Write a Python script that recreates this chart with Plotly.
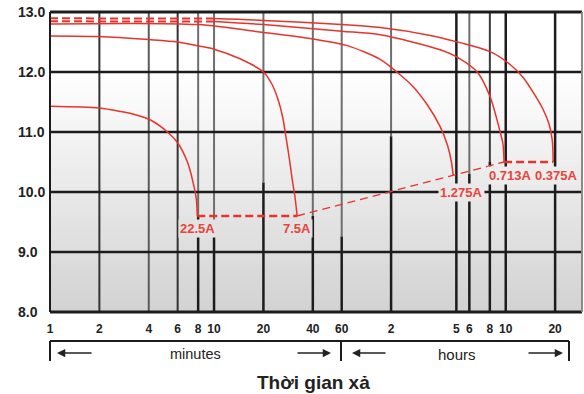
import numpy as np
import plotly.graph_objects as go

# ---------------- data ----------------
# discharge time in minutes, terminal voltage in volts
t_225 = [1, 2, 2.7, 3.4, 4.1, 5.2, 6.0, 6.9, 7.45, 7.8, 7.9]
v_225 = [11.43, 11.40, 11.34, 11.28, 11.2, 11.0, 10.82, 10.49, 10.16, 9.88, 9.6]

t_75 = [1, 2, 4, 6, 8.2, 10, 14.4, 20, 22.5, 24.5, 26.2, 27.5, 28.8, 30.0, 31.2, 32.1]
v_75 = [12.6, 12.59, 12.54, 12.5, 12.43, 12.38, 12.22, 12.0, 11.8, 11.55, 11.25, 10.9, 10.55, 10.2, 9.9, 9.6]

t_1275 = [1, 8, 20, 40, 65, 103, 130, 163, 200, 239, 265, 280, 287]
v_1275 = [12.80, 12.79, 12.66, 12.55, 12.44, 12.21, 12.0, 11.76, 11.45, 11.09, 10.78, 10.5, 10.28]

t_0713 = [1, 10, 20, 60, 103, 239, 316, 402, 480, 555, 577, 586]
v_0713 = [12.845, 12.84, 12.79, 12.68, 12.62, 12.37, 12.22, 12.0, 11.6, 11.0, 10.8, 10.5]

t_0375 = [1, 10, 20, 60, 103, 208, 316, 482, 638, 766, 906, 1014, 1104, 1151, 1164, 1167]
v_0375 = [12.895, 12.89, 12.86, 12.79, 12.74, 12.61, 12.49, 12.34, 12.125, 11.91, 11.61, 11.375, 11.125, 10.875, 10.68, 10.5]

# end-voltage (cut-off) line joining curve ends
t_cut = [7.9, 32.1, 586, 1167]
v_cut = [9.6, 9.6, 10.5, 10.5]

labels = ["22.5A", "7.5A", "1.275A", "0.713A", "0.375A"]
label_t = [7.9, 32, 321, 638, 1217]
label_v = [9.4, 9.4, 10.0, 10.28, 10.28]

tick_vals = [1, 2, 4, 6, 8, 10, 20, 40, 60, 120, 300, 360, 480, 600, 1200]
tick_text = ["1", "2", "4", "6", "8", "10", "20", "40", "60", "2", "5", "6", "8", "10", "20"]
y_vals = [8, 9, 10, 11, 12, 13]
y_text = ["8.0", "9.0", "10.0", "11.0", "12.0", "13.0"]

# ---------------- styling ----------------
RED = "#e8332c"
LRED = "#e8443c"
BLACK = "#1c1c1c"
FONT = "Liberation Sans, Arial, sans-serif"
X_MAX = 1750

W, H = 584, 394
ML, MR, MT, MB = 50, 2, 12, 82
PW, PH = W - ML - MR, H - MT - MB


def px_x(x):
    return (x - ML) / PW


def px_y(y):
    return (H - MB - y) / PH


def gray(v):
    if v >= 12:
        g = 255
    else:
        g = 255 - 45 * (12 - v) / 4
    g = int(round(g))
    return f"rgb({g},{g},{g})"


fig = go.Figure()

# background gradient bands
shapes = []
steps = np.arange(8, 12, 0.1)
for v0 in steps:
    shapes.append(dict(type="rect", xref="paper", yref="y", x0=0, x1=1,
                       y0=v0, y1=v0 + 0.1 + 0.01, fillcolor=gray(v0 + 0.05),
                       line=dict(width=0), layer="below"))


def seg(x, y, color, width, dash=None, shape="linear"):
    fig.add_trace(go.Scatter(x=x, y=y, mode="lines",
                             line=dict(color=color, width=width, dash=dash,
                                       shape=shape, smoothing=0.8),
                             hoverinfo="skip", showlegend=False))


# vertical grid lines: (upper colour, voltage below which the line is black)
vstyle = {
    2: ("#333333", 8), 4: ("#5a5a5a", 8), 6: ("#333333", 8),
    8: ("#6e6e6e", 9.6), 10: ("#6e6e6e", 9.26), 20: ("#6e6e6e", 10.16),
    40: ("#6e6e6e", 9.6), 60: ("#6e6e6e", 9.26), 120: ("#6e6e6e", 10.93),
    300: (BLACK, 13), 360: ("#6e6e6e", 10.3), 480: ("#3a3a3a", 10.5),
    600: (BLACK, 13), 1200: (BLACK, 13),
}
for tv in tick_vals[1:]:
    col, split = vstyle[tv]
    if split > 8:
        seg([tv, tv], [8, split], BLACK, 2.5)
    if split < 13:
        seg([tv, tv], [split, 13], col, 2)

# horizontal grid lines
for yv in y_vals[1:-1]:
    seg([1, X_MAX], [yv, yv], BLACK, 2.5)

# curves
seg(t_225, v_225, RED, 1.5, shape="spline")
seg(t_75, v_75, RED, 1.5, shape="spline")
seg(t_1275, v_1275, RED, 1.5, shape="spline")


def split_curve(t, v, tb=10):
    t = np.array(t)
    v = np.array(v)
    lo = t <= tb
    hi = t >= tb
    return (t[lo], v[lo]), (t[hi], v[hi])


for t, v in [(t_0713, v_0713), (t_0375, v_0375)]:
    (ta, va), (tb, vb) = split_curve(t, v)
    seg(ta, va, RED, 2, "8px,4px")
    seg(tb, vb, RED, 1.5, shape="spline")

# cut-off dashed line
seg(t_cut[:2], v_cut[:2], RED, 2.5, "8px,4px")
seg(t_cut[1:3], v_cut[1:3], RED, 1.3, "8px,5px")
seg(t_cut[2:], v_cut[2:], RED, 2.5, "8px,4px")

# borders
shapes += [
    dict(type="line", xref="paper", yref="paper", x0=0, x1=1, y0=1, y1=1,
         line=dict(color=BLACK, width=3)),
    dict(type="line", xref="paper", yref="paper", x0=0, x1=1, y0=0, y1=0,
         line=dict(color=BLACK, width=3)),
    dict(type="line", xref="paper", yref="paper", x0=0, x1=0, y0=0, y1=1,
         line=dict(color=BLACK, width=2)),
    dict(type="line", xref="paper", yref="paper", x0=1, x1=1, y0=0, y1=1,
         line=dict(color="#8a8a8a", width=2)),
]

# bracket under axis
yb = px_y(341)
yb2 = px_y(361)
shapes += [
    dict(type="line", xref="paper", yref="paper", x0=px_x(50), x1=px_x(569),
         y0=yb, y1=yb, line=dict(color=BLACK, width=2)),
    dict(type="line", xref="paper", yref="paper", x0=px_x(50), x1=px_x(50),
         y0=yb, y1=yb2, line=dict(color=BLACK, width=2)),
    dict(type="line", xref="paper", yref="paper", x0=px_x(341), x1=px_x(341),
         y0=yb, y1=yb2, line=dict(color=BLACK, width=2)),
    dict(type="line", xref="paper", yref="paper", x0=px_x(569), x1=px_x(569),
         y0=yb, y1=yb2, line=dict(color=BLACK, width=2)),
]

annotations = []
# curve labels
for txt, tv, vv in zip(labels, label_t, label_v):
    annotations.append(dict(x=np.log10(tv), y=vv, xref="x", yref="y", text=txt,
                            xanchor="center", yanchor="middle",
                            showarrow=False, bgcolor=gray(vv), borderpad=1,
                            font=dict(family=FONT, size=13, color=LRED, weight="bold")))

# y labels (left aligned)
for yv, yt in zip(y_vals, y_text):
    annotations.append(dict(x=px_x(16), y=yv, xref="paper", yref="y", text=yt,
                            xanchor="left", yanchor="middle", showarrow=False,
                            font=dict(family=FONT, size=14, color="#222", weight="bold")))

# minutes / hours
ya = px_y(354)
annotations.append(dict(x=px_x(195), y=ya, xref="paper", yref="paper", text="minutes",
                        xanchor="center", yanchor="middle",
                        showarrow=False, font=dict(family=FONT, size=14.5, color="#222")))
annotations.append(dict(x=px_x(457), y=ya, xref="paper", yref="paper", text="hours",
                        xanchor="center", yanchor="middle",
                        showarrow=False, font=dict(family=FONT, size=15, color="#222")))
for head, tail in [(57, 93), (331, 296), (352, 387), (563, 527)]:
    annotations.append(dict(x=px_x(head), y=px_y(353), xref="paper", yref="paper",
                            text="", showarrow=True, ax=tail - head, ay=0,
                            arrowhead=2, arrowsize=1.1, arrowwidth=1.5, arrowcolor="#222"))

# title
annotations.append(dict(x=px_x(313), y=px_y(382), xref="paper", yref="paper",
                        text="Thời gian xả", showarrow=False,
                        xanchor="center", yanchor="middle",
                        font=dict(family=FONT, size=19, color="#222", weight="bold")))

fig.update_layout(
    width=W, height=H,
    margin=dict(l=ML, r=MR, t=MT, b=MB),
    paper_bgcolor="white", plot_bgcolor="white",
    shapes=shapes, annotations=annotations,
    xaxis=dict(type="log", range=[0, np.log10(X_MAX)], showgrid=False, zeroline=False,
               tickvals=tick_vals, ticktext=tick_text, ticks="outside", ticklen=6,
               tickcolor="rgba(0,0,0,0)",
               tickfont=dict(family=FONT, size=12, color="#222", weight="bold")),
    yaxis=dict(range=[8, 13], showgrid=False, zeroline=False, showticklabels=False),
    showlegend=False,
)

fig.write_html("out.html")
